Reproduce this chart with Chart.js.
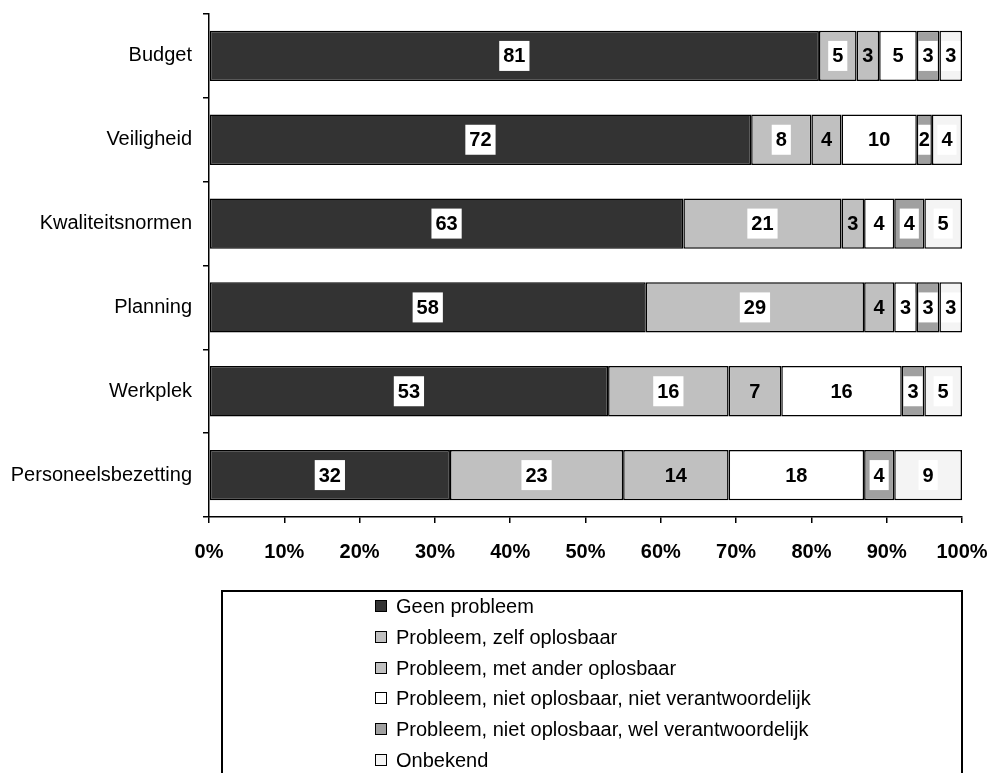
<!DOCTYPE html>
<html>
<head>
<meta charset="utf-8">
<script src="https://cdn.jsdelivr.net/npm/chart.js@4/dist/chart.umd.min.js"></script>
<style>
  html, body { margin: 0; padding: 0; background: #fff; }
  #wrap { position: relative; width: 991px; height: 773px; overflow: hidden; }
  #chart { position: absolute; left: 0; top: 0; }
  #legend {
    position: absolute; left: 221px; top: 590px; width: 742px; height: 220px;
    border: 2px solid #000; box-sizing: border-box;
    font-family: "Liberation Sans", Arial, sans-serif; font-size: 20px; color: #000;
  }
  .item { position: absolute; left: 152px; height: 24px; line-height: 24px; white-space: nowrap; }
  .swatch {
    position: absolute; left: 0; top: 6px; width: 12px; height: 12px;
    border: 1.5px solid #000; box-sizing: border-box;
  }
  .item span { position: absolute; left: 21px; top: 0; }
</style>
</head>
<body>
<div id="wrap">
  <canvas id="chart" width="991" height="773"></canvas>
  <div id="legend"></div>
</div>
<script>
// Aspects of work, share of respondents per answer (%)
const categories = ["Budget", "Veiligheid", "Kwaliteitsnormen", "Planning", "Werkplek", "Personeelsbezetting"];

const seriesNames = [
  "Geen probleem",
  "Probleem, zelf oplosbaar",
  "Probleem, met ander oplosbaar",
  "Probleem, niet oplosbaar, niet verantwoordelijk",
  "Probleem, niet oplosbaar, wel verantwoordelijk",
  "Onbekend"
];

const geenProbleem         = [81, 72, 63, 58, 53, 32];
const zelfOplosbaar        = [5, 8, 21, 29, 16, 23];
const metAnderOplosbaar    = [3, 4, 3, 4, 7, 14];
const nietVerantwoordelijk = [5, 10, 4, 3, 16, 18];
const welVerantwoordelijk  = [3, 2, 4, 3, 3, 4];
const onbekend             = [3, 4, 5, 3, 5, 9];

const xTickLabels = ["0%", "10%", "20%", "30%", "40%", "50%", "60%", "70%", "80%", "90%", "100%"];

const seriesValues = [geenProbleem, zelfOplosbaar, metAnderOplosbaar, nietVerantwoordelijk, welVerantwoordelijk, onbekend];
const seriesColors = ["#333333", "#c0c0c0", "#c0c0c0", "#ffffff", "#a0a0a0", "#f4f4f4"];
// labels of these series sit on a white box
const boxedLabels = [true, true, false, true, true, true];

const FONT = '"Liberation Sans", Arial, sans-serif';

// Build legend
const legend = document.getElementById('legend');
seriesNames.forEach((name, i) => {
  const d = document.createElement('div');
  d.className = 'item';
  d.style.top = (2 + i * 30.8) + 'px';
  d.innerHTML = '<div class="swatch" style="background:' + seriesColors[i] + '"></div><span></span>';
  d.querySelector('span').textContent = name;
  legend.appendChild(d);
});

// Value labels in the middle of each segment
const valueLabels = {
  id: 'valueLabels',
  afterDatasetsDraw(chart) {
    const ctx = chart.ctx;
    ctx.save();
    ctx.font = 'bold 20px ' + FONT;
    ctx.textAlign = 'center';
    ctx.textBaseline = 'middle';
    chart.data.datasets.forEach((ds, di) => {
      const meta = chart.getDatasetMeta(di);
      meta.data.forEach((el, i) => {
        const txt = String(ds.data[i]);
        const cx = (el.x + el.base) / 2;
        const cy = el.y;
        const w = ctx.measureText(txt).width;
        if (boxedLabels[di]) {
          const segW = Math.abs(el.x - el.base) - 3;
          const bw = Math.min(w + 8, segW);
          ctx.fillStyle = '#ffffff';
          ctx.fillRect(cx - bw / 2, cy - 15, bw, 30);
        }
        ctx.fillStyle = '#000';
        ctx.fillText(txt, cx, cy + 1);
      });
    });
    ctx.restore();
  }
};

new Chart(document.getElementById('chart'), {
  type: 'bar',
  data: {
    labels: categories,
    datasets: seriesValues.map((vals, i) => ({
      label: seriesNames[i],
      data: vals,
      backgroundColor: seriesColors[i],
      borderColor: '#000',
      borderWidth: 1.5,
      borderSkipped: false,
      barPercentage: 0.6,
      categoryPercentage: 1.0
    }))
  },
  options: {
    indexAxis: 'y',
    responsive: false,
    animation: false,
    events: [],
    layout: { padding: { left: 0, top: 14, right: 29, bottom: 196 } },
    plugins: { legend: { display: false }, tooltip: { enabled: false } },
    scales: {
      x: {
        stacked: true,
        min: 0, max: 100,
        afterBuildTicks(scale) {
          scale.ticks = xTickLabels.map((t, i) => ({ value: i * 10 }));
        },
        afterFit(scale) {
          scale.height = 60;
          scale.paddingLeft = 0;
          scale.paddingRight = 0;
        },
        ticks: {
          callback: (v, i) => xTickLabels[i],
          color: '#000',
          font: { family: FONT, size: 20, weight: 'bold' },
          padding: 17,
          maxRotation: 0
        },
        grid: { drawOnChartArea: false, color: '#000', tickLength: 6, lineWidth: 1.5 },
        border: { display: true, color: '#000', width: 1.5 }
      },
      y: {
        stacked: true,
        afterFit(scale) {
          scale.width = 209;
          scale.paddingTop = 0;
          scale.paddingBottom = 0;
        },
        ticks: {
          color: '#000',
          font: { family: FONT, size: 20 },
          padding: 11
        },
        grid: { drawOnChartArea: false, color: '#000', tickLength: 6, lineWidth: 1.5, offset: true },
        border: { display: true, color: '#000', width: 1.5 }
      }
    }
  },
  plugins: [valueLabels]
});
</script>
</body>
</html>
